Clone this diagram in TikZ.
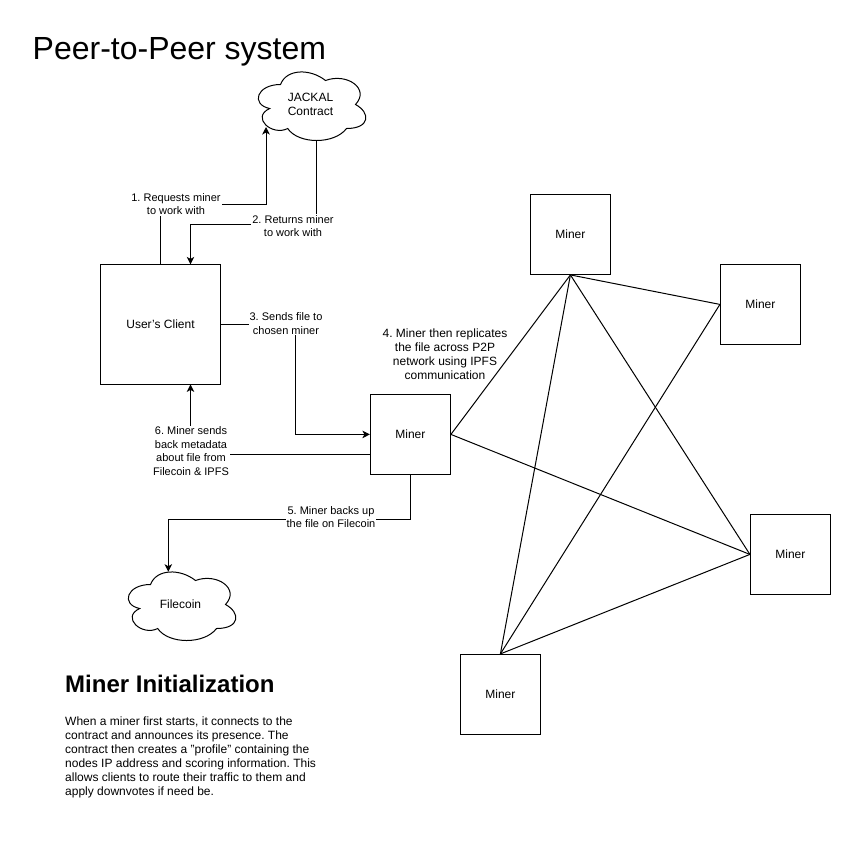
\documentclass[tikz,border=0pt]{standalone}
\usepackage{fontspec}
\setmainfont{Liberation Sans}
\usetikzlibrary{arrows.meta}
\newcommand{\cloudat}[5]{%
  % name, x0, y0 (top-left, y downward), w, text
  \begin{scope}[shift={(#2,-#3)},x=#4pt,y=-0.6667*#4pt]
    \draw[line width=1pt,fill=white] (0.25,0.25) .. controls (0.05,0.25) and (0,0.5) .. (0.16,0.55)
      .. controls (0,0.66) and (0.18,0.9) .. (0.31,0.8)
      .. controls (0.4,1) and (0.7,1) .. (0.8,0.8)
      .. controls (1,0.8) and (1,0.6) .. (0.875,0.5)
      .. controls (1,0.3) and (0.8,0.1) .. (0.625,0.2)
      .. controls (0.5,0.05) and (0.3,0.05) .. (0.25,0.25) -- cycle;
    \node[lbl] (#1) at (0.5,0.5) {#5};
  \end{scope}}
\tikzset{
  x=1pt,y=1pt,
  lbl/.style={font=\fontsize{12}{14}\selectfont,align=center,inner sep=0pt,text=black},
  edgelbl/.style={font=\fontsize{11}{13.6}\selectfont,align=center,text=black,fill=white,inner sep=1pt},
  box/.style={draw=black,line width=1pt,fill=white,minimum width=80pt,minimum height=80pt,inner sep=0pt,font=\fontsize{12}{14}\selectfont},
  bigbox/.style={box,minimum width=120pt,minimum height=120pt},
  conn/.style={draw=black,line width=1pt},
  arr/.style={conn,-{Stealth[length=7.5pt,width=7.5pt,inset=2pt]}},
}
\begin{document}
\frenchspacing
\begin{tikzpicture}
\useasboundingbox (0,0) rectangle (861,-855);
\node[inner sep=0pt,anchor=west,font=\fontsize{32}{38}\selectfont] (title) at (32.5,-52) {Peer-to-Peer system};
\node[bigbox] (client) at (160.5,-324.4) {User\symbol{39}s Client};
\node[box] (m0) at (410.4,-434.4) {Miner};
\node[box] (m1) at (570.4,-234.4) {Miner};
\node[box] (m2) at (760.4,-304.4) {Miner};
\node[box] (m3) at (790.4,-554.4) {Miner};
\node[box] (m4) at (500.4,-694.4) {Miner};
\cloudat{jackal}{250.5}{64.5}{120}{JACKAL\\Contract}
\cloudat{filecoin}{120.5}{564.5}{120}{Filecoin}
\coordinate (jacktip) at (266,-127);
\coordinate (jackout) at (316.5,-140.5);
\coordinate (filetip) at (168.3,-571.7);
% 1
\draw[arr] (client.north) -- (160.5,-204) -- (266,-204) -- (jacktip);
\node[edgelbl] (l1) at (176,-204) {1. Requests miner\\to work with};
% 2
\draw[arr] (jackout) -- (316.5,-224.3) -- (190.5,-224.3) -- (190.5,-264.4);
\node[edgelbl] (l2) at (293,-226) {2. Returns miner\\to work with};
% 3
\draw[arr] (client.east) -- (295.5,-324.4) -- (295.5,-434.4) -- (m0.west);
\node[edgelbl] (l3) at (286,-323.5) {3. Sends file to\\chosen miner};
% 6
\draw[arr] (370.4,-454.4) -- (190.5,-454.4) -- (190.5,-384.4);
\node[edgelbl] (l6) at (191,-451) {6. Miner sends\\back metadata\\about file from\\Filecoin \& IPFS};
% 5
\draw[arr] (m0.south) -- (410.4,-519.3) -- (168.3,-519.3) -- (filetip);
\node[edgelbl] (l5) at (331,-517) {5. Miner backs up\\the file on Filecoin};
% mesh
\draw[conn] (m0.east) -- (m1.south);
\draw[conn] (m0.east) -- (m3.west);
\draw[conn] (m1.south) -- (m2.west);
\draw[conn] (m1.south) -- (m3.west);
\draw[conn] (m1.south) -- (m4.north);
\draw[conn] (m2.west) -- (m4.north);
\draw[conn] (m3.west) -- (m4.north);
\node[lbl] (l4) at (445,-354) {4. Miner then replicates\\the file across P2P\\network using IPFS\\communication};
\node[inner sep=0pt,anchor=west,font=\fontsize{24}{28}\selectfont\bfseries] (h2) at (65,-684) {Miner Initialization};
\node[inner sep=0pt,anchor=north west,align=left,font=\fontsize{12}{14}\selectfont] (para) at (65,-717) {When a miner first starts, it connects to the\\contract and announces its presence. The\\contract then creates a \symbol{34}profile\symbol{34} containing the\\nodes IP address and scoring information. This\\allows clients to route their traffic to them and\\apply downvotes if need be.};
\end{tikzpicture}
\end{document}
